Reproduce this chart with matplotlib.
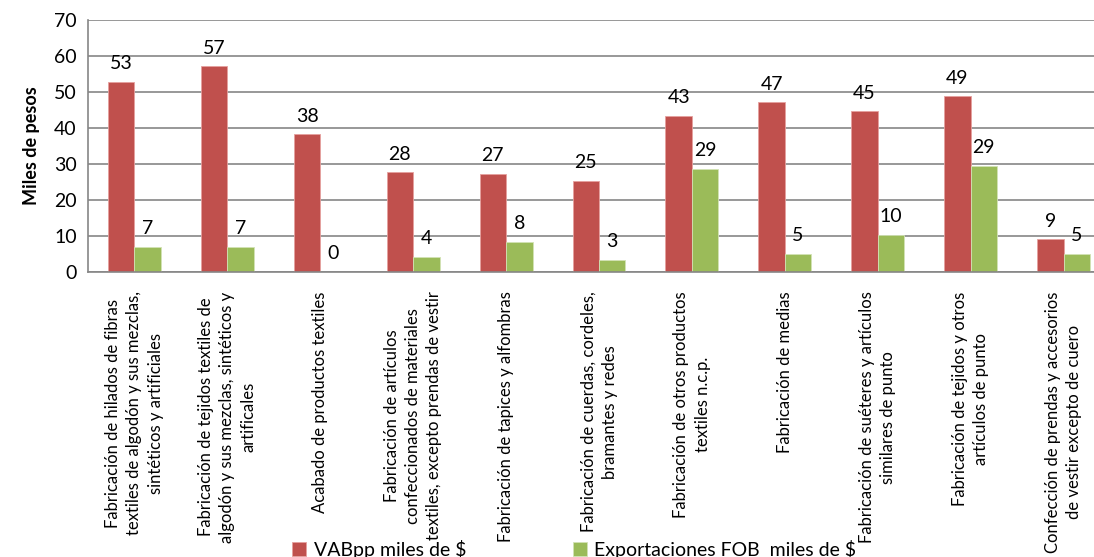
import numpy as np
import matplotlib
matplotlib.use("Agg")
import matplotlib.pyplot as plt

plt.rcParams['font.family'] = ['Lato', 'DejaVu Sans']

# Datos
categorias = [
    "Fabricación de hilados de fibras\ntextiles de algodón y sus mezclas,\nsintéticos y artificiales",
    "Fabricación de tejidos textiles de\nalgodón y sus mezclas, sintéticos y\nartificales",
    "Acabado de productos textiles",
    "Fabricación de artículos\nconfeccionados de materiales\ntextiles, excepto prendas de vestir",
    "Fabricación de tapices y alfombras",
    "Fabricación de cuerdas, cordeles,\nbramantes y redes",
    "Fabricación de otros productos\ntextiles n.c.p.",
    "Fabricación de medias",
    "Fabricación de suéteres y artículos\nsimilares de punto",
    "Fabricación de tejidos y otros\nartículos de punto",
    "Confección de prendas y accesorios\nde vestir excepto de cuero",
]
vab = [52.8, 57.1, 38.2, 27.7, 27.2, 25.4, 43.4, 47.1, 44.6, 48.8, 9.1]
expo = [6.9, 6.9, 0.0, 4.3, 8.4, 3.3, 28.6, 5.1, 10.4, 29.4, 5.1]
nombres = ["VABpp miles de $", "Exportaciones FOB  miles de $"]

rojo = "#C0504D"
verde = "#9BBB59"
gris = "#868686"

fig = plt.figure(figsize=(10.94, 5.57), dpi=100)
ax = fig.add_axes([88 / 1094, 285 / 557, 1022 / 1094, 252 / 557])

x = np.arange(len(categorias))
w = 0.285
b1 = ax.bar(x - w / 2, vab, w, color=rojo, edgecolor="#E6A09E", linewidth=0.6, label=nombres[0])
b2 = ax.bar(x + w / 2, expo, w, color=verde, edgecolor="#D2E3B5", linewidth=0.6, label=nombres[1])

# etiquetas de valor
for barras, vals in ((b1, vab), (b2, expo)):
    for r, v in zip(barras, vals):
        ax.annotate(f"{v:.0f}", (r.get_x() + r.get_width() / 2, v),
                    xytext=(0, 7), textcoords="offset points",
                    ha="center", va="bottom", fontsize=14, color="black")

ax.set_xlim(-0.5, len(categorias) - 0.5)
ax.set_ylim(0, 70)
ax.set_yticks(range(0, 71, 10))
ax.yaxis.grid(True, color=gris, linewidth=1.2)
ax.set_axisbelow(True)
ax.tick_params(axis="y", length=0, labelsize=14, pad=8)
ax.tick_params(axis="x", length=0, pad=14)
ax.set_xticks(x)
ax.set_xticklabels(categorias, rotation=90, va="top", ha="center",
                   multialignment="center", fontsize=12, linespacing=1.4)

for lado in ("top", "right"):
    ax.spines[lado].set_visible(False)
ax.spines["left"].set_color(gris)
ax.spines["bottom"].set_color(gris)
ax.spines["left"].set_linewidth(1.2)
ax.spines["bottom"].set_linewidth(1.2)

ax.set_ylabel("Miles de pesos", fontsize=13, fontweight="bold", labelpad=10)

fig.legend(handles=[b1, b2], loc="center", bbox_to_anchor=(0.525, 0.014),
           ncol=2, frameon=False, fontsize=14, handlelength=0.7, handleheight=0.7,
           handletextpad=0.4, columnspacing=5.5)

fig.savefig("out.png", dpi=100)
